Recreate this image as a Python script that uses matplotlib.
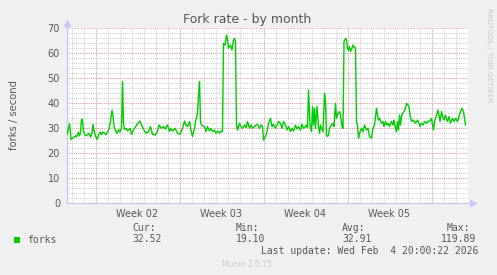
import matplotlib
matplotlib.use('Agg')
import matplotlib.pyplot as plt
import numpy as np

# hours since start of graph (2h per sample, munin month view)
hours = [0, 2, 5, 7, 8, 11, 14, 17, 19, 21, 23, 25, 27, 29, 31, 33, 35, 38, 41, 44,
         47, 50, 52, 54, 57, 60, 63, 66, 69, 72, 75, 78, 81, 84, 87, 90, 92, 94, 97, 100,
         103, 106, 109, 111, 113, 115, 118, 121, 124, 126, 129, 133, 139, 146, 149, 154, 158, 163, 167, 171,
         176, 181, 184, 189, 193, 196, 201, 205, 207, 211, 216, 221, 226, 231, 235, 238, 241, 245, 248, 251,
         255, 257, 261, 263, 265, 267, 269, 275, 278, 281, 285, 288, 291, 295, 298, 301, 305, 308, 311, 313,
         316, 319, 321, 323, 327, 330, 333, 335, 337, 339, 341, 345, 348, 351, 355, 358, 361, 365, 368, 371,
         375, 378, 381, 385, 388, 391, 393, 397, 400, 403, 407, 410, 413, 417, 420, 423, 427, 430, 433, 437,
         440, 443, 447, 450, 453, 457, 460, 463, 467, 470, 473, 477, 479, 481, 483, 486, 489, 491, 493, 495,
         497, 500, 503, 505, 507, 509, 512, 515, 517, 519, 521, 523, 525, 529, 532, 534, 537, 539, 542, 545,
         547, 550, 552, 554, 557, 559, 561, 563, 565, 567, 570, 572, 574, 577, 579, 581, 583, 585, 589, 592,
         595, 599, 602, 605, 609, 612, 615, 619, 621, 623, 625, 629, 632, 634, 637, 639, 642, 645, 649, 652,
         654, 657, 659, 661, 663, 665, 667, 669, 671, 674, 677, 679, 682, 684, 686, 689, 692, 695, 697, 701,
         704, 706, 709, 712, 715, 719, 722, 725, 729, 731, 733, 735, 739, 742, 744, 746, 749, 751, 754, 757,
         761, 764, 767, 771, 774, 777, 781, 784, 787, 790, 793, 795, 797]
forks = [27.5, 29, 31.8, 28, 25.5, 26, 26.5, 27, 26.5, 27.5, 28.5, 27, 28, 33.6, 33.5, 29, 27.5, 27, 27.5, 28,
         26.5, 28, 31.6, 29, 27, 25.6, 27, 28.5, 27.5, 28.5, 28, 27.5, 28.5, 29.7, 33, 37.3, 35, 31, 29, 28,
         29.5, 28.5, 30, 48.7, 32, 29.5, 30, 29, 29.5, 30, 27.6, 29.3, 31.3, 32.9, 31.3, 29.3, 28, 28.7, 30.7, 27.6,
         27.3, 28.7, 31.3, 30, 30.7, 29.7, 31.3, 28.7, 30, 28.9, 30, 28, 27.6, 30, 32.9, 31.3, 30.7, 32.7, 29.3, 26.7,
         30, 32.7, 36, 43.3, 48.7, 32.6, 31.3, 30.7, 28.7, 30.7, 28.9, 30, 28.7, 29.3, 28, 28.9, 28, 28.9, 28.7, 64,
         63.3, 67.3, 65.3, 62, 63.3, 61.3, 65.3, 66, 64.7, 31.3, 29.3, 32, 30.7, 30, 31.3, 30.3, 32.7, 30, 31.3, 30,
         30.7, 31.3, 31.6, 30, 31.3, 30.7, 25.3, 26.7, 28.7, 32, 34, 30.7, 31.6, 30, 31.3, 32.7, 32, 30, 32.7, 31.3,
         29.3, 30.7, 28.7, 30, 28.9, 31.3, 29.7, 30.7, 29.3, 31.6, 30, 30.7, 31.3, 30.2, 45.3, 31.3, 28.7, 38.7, 31.3, 38,
         30, 38.7, 30.7, 28, 31.3, 30, 28.7, 44, 40.7, 27.3, 26.7, 27.3, 30, 31.3, 32, 30.7, 40, 34, 36, 36.7,
         35.3, 30.7, 30, 64.7, 66, 65.3, 62, 61.3, 62.7, 60.7, 62, 63.3, 62.7, 62, 32.7, 31.3, 26, 28, 30, 28.7,
         31.3, 29.3, 30, 26.7, 26, 30, 31.3, 38, 35.3, 33.3, 34, 32, 32.7, 30.7, 32.7, 31.3, 32, 30.7, 32.7, 31.3,
         33.3, 30, 28.7, 32.7, 29.3, 35.3, 31.3, 34.7, 36, 36.7, 38, 40, 39.3, 38.7, 35.3, 32.7, 33.3, 32.7, 32, 33.3,
         32, 30.7, 32, 31.3, 32.7, 32, 32.9, 32.7, 34, 31.3, 29.3, 32.7, 35.3, 37.3, 35.3, 32.7, 36.7, 34.7, 33.3, 35.3,
         32.7, 34.7, 32, 34, 32.7, 34, 32.7, 34.7, 36.7, 38, 36.7, 34, 31.3]

week_starts = [57, 225, 393, 561, 729]
week_labels = ['Week 02', 'Week 03', 'Week 04', 'Week 05']
legend_heads = ['Cur:', 'Min:', 'Avg:', 'Max:']
legend_vals = ['32.52', '19.10', '32.91', '119.89']

W, H = 497, 275
fig = plt.figure(figsize=(W / 100, H / 100), dpi=100, facecolor='#F0F0F0')
ax = fig.add_axes([67 / W, 1 - 203.3 / H, 401 / W, 175 / H])
ax.set_facecolor('white')
ax.set_xlim(0, 802)
ax.set_ylim(0, 70)
for s in ax.spines.values():
    s.set_visible(False)

# grid: minor grey every day / 2 units, major red every week / 10 units
for h in np.arange(9, 802, 24):
    ax.axvline(h, color='#c8c8c8', lw=0.7, ls=(0, (1, 1.2)), zorder=0)
for v in np.arange(2, 70, 2):
    ax.axhline(v, color='#c8c8c8', lw=0.7, ls=(0, (1, 1.2)), zorder=0)
for h in week_starts:
    ax.axvline(h, color='#e8a0a0', lw=0.7, ls=(0, (1, 1.2)), zorder=1)
for v in range(10, 71, 10):
    ax.axhline(v, color='#e8a0a0', lw=0.7, ls=(0, (1, 1.2)), zorder=1)

ax.plot(hours, forks, color='#00CC00', lw=1.0, zorder=3)

# axis lines with arrows
ax.plot([0, 0], [0, 1.02], color='#c8c8f0', lw=1, transform=ax.transAxes, clip_on=False)
ax.plot([0, 1.01], [0, 0], color='#c8c8f0', lw=1, transform=ax.transAxes, clip_on=False)
ax.plot([0], [1.03], marker='^', color='#c8c8f8', ms=5, transform=ax.transAxes, clip_on=False)
ax.plot([1.012], [0], marker='>', color='#c8c8f8', ms=5, transform=ax.transAxes, clip_on=False)

ax.set_yticks(range(0, 71, 10))
ax.set_xticks([(a + b) / 2 for a, b in zip(week_starts[:-1], week_starts[1:])])
ax.set_xticklabels(week_labels)
ax.tick_params(length=0, labelsize=7, labelcolor='#555555', pad=5)
ax.tick_params(axis='x', pad=4)

fig.text(247 / W, 1 - 19 / H, 'Fork rate - by month', ha='center', va='center',
         fontsize=9, color='#555555')
fig.text(14 / W, 1 - 115 / H, 'forks / second', rotation=90, ha='center', va='center',
         fontsize=7.2, color='#555555')
fig.text(489 / W, 1 - 8 / H, 'RRDTOOL / TOBI OETIKER', rotation=270, ha='center', va='top',
         fontsize=5.3, color='#c8c8c8')

mono = 'DejaVu Sans Mono'
fig.patches.append(plt.Rectangle((14 / W, 1 - 242.5 / H), 6 / W, 6 / H, transform=fig.transFigure,
                                 facecolor='#00CC00', edgecolor='none'))
fig.text(27 / W, 1 - 240 / H, 'forks', family=mono, fontsize=7, color='#555555', va='center')
head_x = [132, 236, 342, 447]
val_x = [132, 236, 342, 441]
for hx, vx, t, v in zip(head_x, val_x, legend_heads, legend_vals):
    fig.text(hx / W, 1 - 228 / H, t, family=mono, fontsize=7, color='#555555', va='center')
    fig.text(vx / W, 1 - 239.5 / H, v, family=mono, fontsize=7, color='#555555', va='center')
fig.text(261 / W, 1 - 251.5 / H, 'Last update: Wed Feb  4 20:00:22 2026', family=mono,
         fontsize=7, color='#555555', va='center')
fig.text(247 / W, 1 - 264.5 / H, 'Munin 2.0.75', fontsize=5.5, color='#c8c8c8', ha='center', va='center')

fig.savefig('out.png', dpi=100, facecolor=fig.get_facecolor())
